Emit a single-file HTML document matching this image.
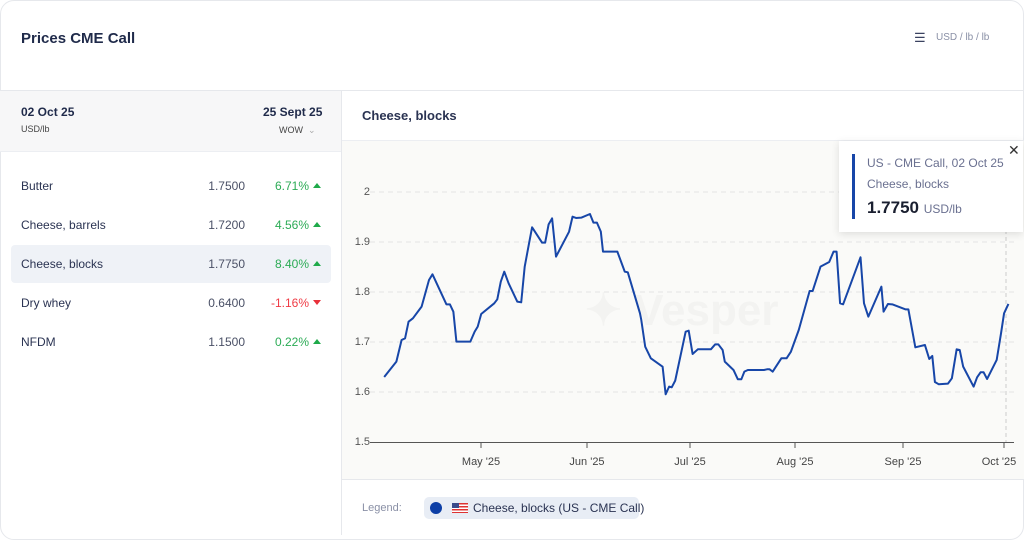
<!DOCTYPE html>
<html><head><meta charset="utf-8"><style>
*{box-sizing:border-box;margin:0;padding:0}
body{width:1024px;height:535px;background:#fff;font-family:"Liberation Sans",sans-serif;color:#1f2a4a;position:relative;overflow:hidden}
.abs{position:absolute}
.card{position:absolute;left:0;top:0;width:1024px;height:540px;border:1px solid #e6e8ec;border-radius:14px}
.row{position:absolute;left:11px;width:320px;height:38px;font-size:12px}
.row .n{position:absolute;left:10px;top:12px;color:#2a3352}
.row .v{position:absolute;right:86px;top:12px;color:#4a5066}
.row .p{position:absolute;right:22px;top:12px}
.row .t{position:absolute;right:10px;top:16px;width:0;height:0;border-left:4px solid transparent;border-right:4px solid transparent}
.up{border-bottom:5px solid #1faa4a}.dn{border-top:5px solid #e8303a}
.g{color:#2bab55}.r{color:#ef3b45}
.yl{position:absolute;left:350px;width:20px;text-align:right;font-size:11px;color:#555}
.xl{position:absolute;top:456px;font-size:11px;color:#444;width:60px;text-align:center}
</style></head><body>
<div class="card"></div>
<div class="abs" style="left:21px;top:30px;font-size:15px;font-weight:bold;color:#1f2a4a">Prices CME Call</div>
<div class="abs" style="left:914px;top:30px;font-size:13px;color:#3a4260">&#9776;</div>
<div class="abs" style="left:936px;top:32px;font-size:10px;color:#8a90a6">USD / lb / lb</div>
<div class="abs" style="left:0;top:90px;width:1024px;height:1px;background:#e6e8ec"></div>
<div class="abs" style="left:0;top:91px;width:341px;height:61px;background:#f7f7f8;border-bottom:1px solid #eceef2"></div>
<div class="abs" style="left:341px;top:91px;width:1px;height:444px;background:#e6e8ec"></div>
<div class="abs" style="left:21px;top:105px;font-size:12px;font-weight:bold">02 Oct 25</div>
<div class="abs" style="left:21px;top:124px;font-size:9px;color:#444">USD/lb</div>
<div class="abs" style="left:263px;top:105px;font-size:12px;font-weight:bold">25 Sept 25</div>
<div class="abs" style="left:279px;top:125px;font-size:9px;color:#444">WOW &nbsp;<span style="color:#aaa">&#8964;</span></div>
<div class="row" style="top:167px"><span class="n">Butter</span><span class="v">1.7500</span><span class="p g">6.71%</span><span class="t up"></span></div>
<div class="row" style="top:206px"><span class="n">Cheese, barrels</span><span class="v">1.7200</span><span class="p g">4.56%</span><span class="t up"></span></div>
<div class="row" style="top:245px;background:#eff2f7;border-radius:4px"><span class="n">Cheese, blocks</span><span class="v">1.7750</span><span class="p g">8.40%</span><span class="t up"></span></div>
<div class="row" style="top:284px"><span class="n">Dry whey</span><span class="v">0.6400</span><span class="p r">-1.16%</span><span class="t dn"></span></div>
<div class="row" style="top:323px"><span class="n">NFDM</span><span class="v">1.1500</span><span class="p g">0.22%</span><span class="t up"></span></div>
<div class="abs" style="left:362px;top:108px;font-size:13px;font-weight:bold;color:#2a3352">Cheese, blocks</div>
<div class="abs" style="left:342px;top:140px;width:682px;height:340px;background:#fafaf8;border-top:1px solid #eceef2;border-bottom:1px solid #e6e8ec"></div>
<div class="abs" style="left:585px;top:285px;font-size:44px;font-weight:bold;color:#f3f3f1">✦ Vesper</div>
<svg class="abs" style="left:0;top:0" width="1024" height="535">
<g stroke="#e4e4e4" stroke-dasharray="5,4" stroke-width="1">
<line x1="370" x2="1014" y1="192" y2="192"/><line x1="370" x2="1014" y1="242" y2="242"/><line x1="370" x2="1014" y1="292" y2="292"/><line x1="370" x2="1014" y1="342" y2="342"/><line x1="370" x2="1014" y1="392" y2="392"/>
</g>
<line x1="1006" x2="1006" y1="230" y2="442" stroke="#ccc" stroke-dasharray="4,3"/>
<line x1="370" x2="1014" y1="442.5" y2="442.5" stroke="#555"/>
<g stroke="#555"><line x1="481" x2="481" y1="442" y2="448"/><line x1="587" x2="587" y1="442" y2="448"/><line x1="690" x2="690" y1="442" y2="448"/><line x1="795" x2="795" y1="442" y2="448"/><line x1="903" x2="903" y1="442" y2="448"/><line x1="1004" x2="1004" y1="442" y2="448"/></g>
<g transform="translate(342,140) scale(0.435,0.3333)">
<polyline fill="none" stroke="#1746a8" stroke-width="2" vector-effect="non-scaling-stroke" stroke-linejoin="round" points="97,711 125,665 137,600 145,595 153,545 163,535 183,500 200,420 208,403 240,493 248,493 256,515 263,605 295,605 305,575 312,560 320,522 350,490 357,478 365,425 373,395 383,430 403,485 412,487 420,380 430,310 437,262 460,308 467,308 475,253 483,235 492,350 522,275 530,230 538,234 550,233 570,222 578,248 586,248 595,275 600,335 633,335 650,395 657,397 685,520 688,540 697,620 710,655 737,680 744,763 752,740 758,742 766,722 790,575 797,572 806,642 818,628 848,628 858,613 865,613 875,630 880,665 900,690 910,718 918,718 925,695 933,690 970,690 977,688 983,688 990,695 1010,655 1022,655 1032,635 1050,570 1075,453 1082,453 1100,380 1120,366 1130,335 1137,335 1145,490 1152,493 1192,352 1200,490 1210,530 1240,440 1245,515 1255,492 1265,493 1295,508 1302,508 1318,622 1340,615 1350,657 1357,648 1363,726 1372,733 1393,731 1402,715 1413,628 1420,630 1428,680 1452,740 1460,712 1468,697 1475,697 1483,717 1505,660 1515,580 1522,520 1532,492"/>
</g>
</svg>
<div class="yl" style="top:186px">2</div><div class="yl" style="top:236px">1.9</div><div class="yl" style="top:286px">1.8</div><div class="yl" style="top:336px">1.7</div><div class="yl" style="top:386px">1.6</div><div class="yl" style="top:436px">1.5</div>
<div class="xl" style="left:451px">May '25</div><div class="xl" style="left:557px">Jun '25</div><div class="xl" style="left:660px">Jul '25</div><div class="xl" style="left:765px">Aug '25</div><div class="xl" style="left:873px">Sep '25</div><div class="xl" style="left:969px">Oct '25</div>
<div class="abs" style="left:839px;top:141px;width:184px;height:91px;background:#fff;box-shadow:0 2px 8px rgba(0,0,0,0.12)"></div>
<div class="abs" style="left:852px;top:154px;width:3px;height:65px;background:#1746a8"></div>
<div class="abs" style="left:867px;top:156px;font-size:12px;color:#6a7090">US - CME Call, 02 Oct 25</div>
<div class="abs" style="left:867px;top:177px;font-size:12px;color:#6a7090">Cheese, blocks</div>
<div class="abs" style="left:867px;top:198px;font-size:17px;font-weight:bold;color:#1a1f30">1.7750 <span style="font-size:12px;font-weight:normal;color:#6a7090">USD/lb</span></div>
<div class="abs" style="left:1008px;top:142px;font-size:14px;color:#333">✕</div>
<div class="abs" style="left:362px;top:502px;font-size:11px;color:#8a90a6">Legend:</div>
<div class="abs" style="left:424px;top:497px;width:215px;height:22px;background:#e8edf5;border-radius:5px"></div>
<div class="abs" style="left:430px;top:502px;width:12px;height:12px;border-radius:50%;background:#0d3fa6"></div>
<div class="abs" style="left:452px;top:503px;width:16px;height:10px;background:repeating-linear-gradient(#d33 0 1.5px,#fff 1.5px 3px)"><div style="width:7px;height:5px;background:#3a4a8a"></div></div>
<div class="abs" style="left:473px;top:501px;font-size:12px;color:#2a3352">Cheese, blocks (US - CME Call)</div>
</body></html>
